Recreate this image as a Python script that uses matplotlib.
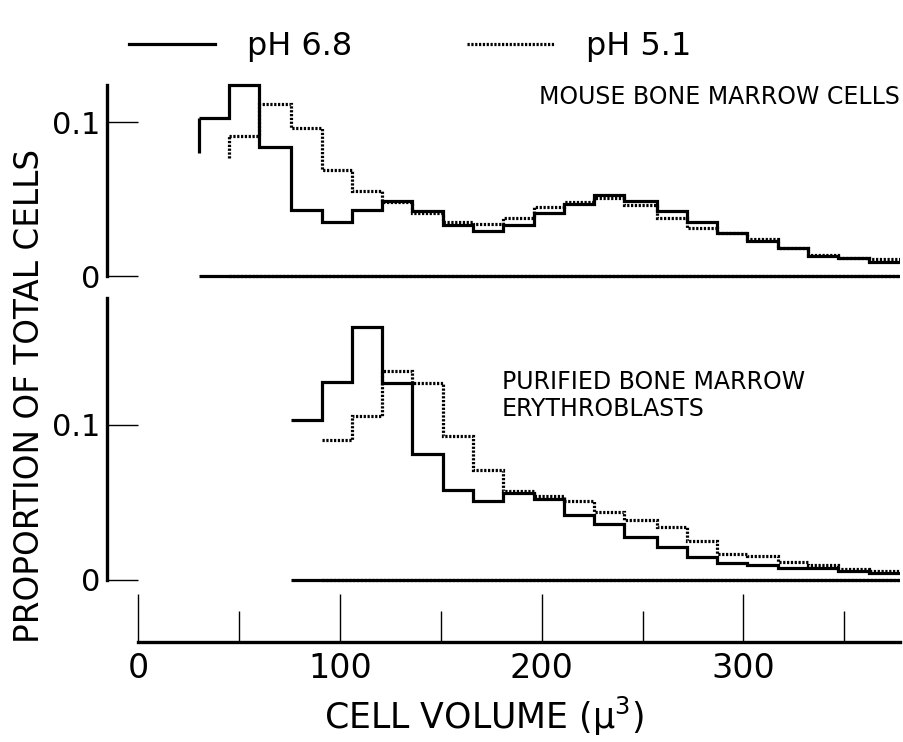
import matplotlib
matplotlib.use("Agg")
import matplotlib.pyplot as plt
from matplotlib import font_manager
from matplotlib.lines import Line2D

# bin edges of the cell volume histogram (u^3)
edges = [30, 45, 60, 76, 91, 106, 121, 136, 151, 166, 181, 196, 211, 226,
         241, 257, 272, 287, 302, 317, 332, 347, 362, 378]

# mouse bone marrow cells (values run up to the last edge)
marrow_ph68 = [0.103, 0.124, 0.084, 0.043, 0.035, 0.043, 0.049, 0.042, 0.033,
               0.029, 0.033, 0.041, 0.047, 0.0525, 0.049, 0.042, 0.035, 0.028,
               0.023, 0.018, 0.013, 0.012, 0.009]
marrow_ph51 = [0.091, 0.112, 0.096, 0.069, 0.055, 0.048, 0.041, 0.035, 0.034,
               0.0375, 0.045, 0.048, 0.051, 0.0465, 0.038, 0.031, 0.028, 0.024,
               0.018, 0.0135, 0.012, 0.011]
marrow_ph68_start = 0.080
marrow_ph51_start = 0.077

# purified bone marrow erythroblasts
ery_ph68 = [0.103, 0.128, 0.163, 0.127, 0.081, 0.058, 0.051, 0.056, 0.0525,
            0.042, 0.036, 0.0275, 0.021, 0.015, 0.011, 0.0095, 0.008, 0.0075,
            0.0055, 0.0045]
ery_ph51 = [0.090, 0.1055, 0.135, 0.127, 0.093, 0.071, 0.0575, 0.054, 0.051,
            0.044, 0.039, 0.034, 0.025, 0.017, 0.0155, 0.0115, 0.0095, 0.007,
            0.006]

x_major = [0, 100, 200, 300]
x_minor = [50, 150, 250, 350]
y_ticks = [0, 0.1]
y_ticklabels = ["0", "0.1"]

XLIM = (-15.4, 377.6)
SOLID = dict(linestyle="-", linewidth=2.3)
DOTTED = dict(linestyle=(0, (0.7, 0.5)), linewidth=2.3)

names = {f.name for f in font_manager.fontManager.ttflist}
if "Liberation Sans Narrow" in names:
    narrow, narrow_size = "Liberation Sans Narrow", 18.5
else:
    narrow, narrow_size = "DejaVu Sans", 17

plt.rcParams["font.family"] = "DejaVu Sans"


def rysuj_serie(ax, wartosci, styl, start=None):
    kraw = edges[-(len(wartosci) + 1):]
    ax.stairs(wartosci, kraw, baseline=None, color="black", **styl)
    ax.hlines(0, kraw[0], kraw[-1], color="black", **styl)
    if start is not None:
        ax.vlines(kraw[0], start, wartosci[0], color="black", **styl)


def ustaw_panel(ax, ylim, gora):
    ax.set_xlim(*XLIM)
    ax.set_ylim(*ylim)
    for s in ["top", "right", "bottom"]:
        ax.spines[s].set_visible(False)
    ax.spines["left"].set_linewidth(2.4)
    ax.spines["left"].set_bounds(0, gora)
    ax.set_xticks([])
    ax.set_yticks(y_ticks)
    ax.set_yticklabels(y_ticklabels)
    ax.tick_params(axis="y", direction="in", length=22, width=1.0,
                   pad=5, labelsize=22)


fig = plt.figure(figsize=(9.04, 7.42), dpi=100)

L, W = 107 / 904, 793 / 904
ax1 = fig.add_axes([L, 1 - 282 / 742, W, 202 / 742])
ax2 = fig.add_axes([L, 1 - 586 / 742, W, 296 / 742])
ax3 = fig.add_axes([L, 1 - 642 / 742, W, 50 / 742])

rysuj_serie(ax1, marrow_ph68, SOLID, marrow_ph68_start)
rysuj_serie(ax1, marrow_ph51, DOTTED, marrow_ph51_start)
ustaw_panel(ax1, (-0.0039, 0.1275), 0.124)

rysuj_serie(ax2, ery_ph68, SOLID)
rysuj_serie(ax2, ery_ph51, DOTTED)
ustaw_panel(ax2, (-0.0039, 0.1871), 0.182)

fig.text(900 / 904, 1 - 97 / 742, "MOUSE BONE MARROW CELLS", ha="right",
         va="center", fontsize=narrow_size, family=narrow)
fig.text(502 / 904, 1 - 382 / 742, "PURIFIED BONE MARROW", ha="left",
         va="center", fontsize=narrow_size, family=narrow)
fig.text(502 / 904, 1 - 409 / 742, "ERYTHROBLASTS", ha="left",
         va="center", fontsize=narrow_size, family=narrow)

# separate x axis below both panels
ax3.set_xlim(*XLIM)
ax3.set_ylim(0, 1)
for s in ["top", "right", "left"]:
    ax3.spines[s].set_visible(False)
ax3.spines["bottom"].set_linewidth(2.4)
ax3.spines["bottom"].set_bounds(0, XLIM[1])
ax3.set_yticks([])
ax3.set_xticks(x_major)
ax3.set_xticklabels([str(v) for v in x_major])
ax3.set_xticks(x_minor, minor=True)
ax3.tick_params(axis="x", which="major", direction="in", length=34.5,
                width=1.0, pad=7, labelsize=24)
ax3.tick_params(axis="x", which="minor", direction="in", length=22.5,
                width=1.0)
ax3.patch.set_alpha(0)

fig.text(484 / 904, 1 - 716 / 742, "CELL VOLUME (µ$^3$)", ha="center",
         va="center", fontsize=25)
fig.text(30 / 904, 1 - 396 / 742, "PROPORTION OF TOTAL CELLS", rotation=90,
         ha="center", va="center", fontsize=23.5)

uchwyty = [Line2D([], [], color="black", **SOLID),
           Line2D([], [], color="black", **DOTTED)]
fig.legend(uchwyty, ["pH 6.8", "pH 5.1"], ncol=2, loc="center",
           bbox_to_anchor=(410 / 904, 1 - 47 / 742), frameon=False,
           fontsize=23, handlelength=2.7, handletextpad=1.0,
           columnspacing=3.6, borderpad=0, borderaxespad=0)

fig.savefig("out.png", dpi=100)
